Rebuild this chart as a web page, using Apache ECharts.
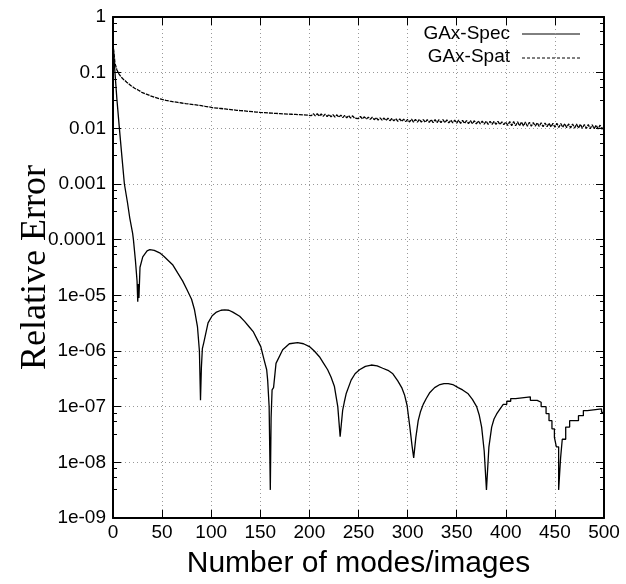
<!DOCTYPE html>
<html><head><meta charset="utf-8">
<script src="https://cdn.jsdelivr.net/npm/echarts/dist/echarts.min.js"></script>
<style>html,body{margin:0;padding:0;background:#fff}#c{width:626px;height:584px}</style>
</head><body><div id="c"></div>
<script>
// ---- data ----
const xTickLabels = ['0','50','100','150','200','250','300','350','400','450','500'];
const yTickLabels = ['1e-09','1e-08','1e-07','1e-06','1e-05','0.0001','0.001','0.01','0.1','1'];
const seriesNames = ['GAx-Spec','GAx-Spat'];

const specX = [0,2,4,6.5,9,11.6,14.7,17,20,20.8,22.8,24.5,25.2,25.8,26.4,27.5,30.3,34.7,37.5,42,47.5,52,57,61,66,71,75,80,83,86,88,89.1,90,91,92.4,96.8,101,105.4,110,113.8,118,122,129,134,138.8,143,147.3,150.5,154,156.5,157.5,159,160.2,161,162,163.5,166,172.8,179.6,188,194,200,205,210.2,214.5,218.6,222,225.5,228.9,231.3,233.9,235.5,237.4,242.5,246.5,251,257,263,269,274.7,280,285,290,294,297,299.5,302.3,304.5,306.2,308.4,310.8,313,315.9,319,322.7,327.5,332.9,337,341.4,346,351.5,356,361.7,366,370.3,373,375.4,378,380.3,382.8,385.6,388,390.7,394,397.4,401,401,405,405,410,410,425,425,432,432,436,436,441,441,444,444,447,447,449.5,449.5,451.5,451.5,453.8,453.8,455.8,455.8,457.5,457.5,461,461,465,465,474,474,479,479,483,483,497.5,497.5,500];
const specValues = [0.33,0.1,0.033,0.01,0.0032,0.001,4.7e-4,2.5e-4,1.3e-4,1e-4,4.3e-5,1.8e-5,7.7e-6,1.6e-5,9e-6,3.2e-5,4.9e-5,6.3e-5,6.6e-5,6.4e-5,5.8e-5,5e-5,4.1e-5,3.5e-5,2.5e-5,1.8e-5,1.3e-5,8.5e-6,5.5e-6,2.75e-6,1e-6,1.3e-7,5e-7,1.1e-6,1.4e-6,3.2e-6,4.3e-6,5e-6,5.4e-6,5.5e-6,5.4e-6,5e-6,4.2e-6,3.4e-6,2.7e-6,2.2e-6,1.55e-6,1.2e-6,6.8e-7,4.6e-7,3e-7,1e-7,3.2e-9,6.3e-8,2e-7,2.2e-7,6e-7,1.05e-6,1.35e-6,1.42e-6,1.35e-6,1.2e-6,1e-6,7.9e-7,6e-7,4.6e-7,3.4e-7,2.3e-7,1e-7,2.9e-8,8.7e-8,1.2e-7,1.7e-7,3e-7,3.9e-7,4.6e-7,5.3e-7,5.6e-7,5.4e-7,4.9e-7,4.5e-7,3.9e-7,2.9e-7,2.2e-7,1.6e-7,1.05e-7,4.3e-8,2e-8,1.2e-8,2.8e-8,5.6e-8,8e-8,1.1e-7,1.4e-7,1.8e-7,2.2e-7,2.5e-7,2.6e-7,2.6e-7,2.5e-7,2.2e-7,2e-7,1.7e-7,1.35e-7,1e-7,7e-8,4.3e-8,1.6e-8,3.2e-9,1.9e-8,4.3e-8,6e-8,7.4e-8,9e-8,1.1e-7,1.1e-7,1.25e-7,1.25e-7,1.4e-7,1.4e-7,1.5e-7,1.5e-7,1.3e-7,1.3e-7,1.2e-7,1.2e-7,1e-7,1e-7,7.5e-8,7.5e-8,5.6e-8,5.6e-8,4e-8,4e-8,2.8e-8,2.8e-8,1.9e-8,1.9e-8,3.2e-9,3.2e-9,1.2e-8,1.2e-8,2.6e-8,2.6e-8,4.3e-8,4.3e-8,5.6e-8,5.6e-8,6.9e-8,6.9e-8,8.5e-8,8.5e-8,9.1e-8,9.1e-8,7.9e-8,7.9e-8];

// GAx-Spat sampled every 2 modes (0,2,4,...,500)
const spatStep = 2;
const spatValues = [0.331,0.148,0.112,0.0955,0.0851,0.0776,0.0724,0.0676,0.0631,0.0590,0.0550,0.0525,0.0501,0.0483,0.0465,
0.0437,0.0444,0.0410,0.0416,0.0384,0.0389,0.0363,0.0372,0.0347,0.0355,0.0331,0.0341,0.0319,0.0328,0.0308,0.0316,
0.0299,0.0309,0.0292,0.0302,0.0285,0.0296,0.0278,0.0288,0.0273,0.0282,0.0267,0.0276,0.0261,0.0270,0.0255,0.0263,0.0248,0.0257,0.0242,0.0251,
0.0234,0.0249,0.0231,0.0245,0.0227,0.0241,0.0223,0.0237,0.0219,0.0233,0.0215,0.0229,0.0211,0.0225,0.0208,0.0221,0.0206,0.0218,0.0202,0.0215,0.0199,0.0212,0.0196,0.0209,0.0193,
0.0206,0.0191,0.0204,0.0189,0.0202,0.0187,0.0200,0.0185,0.0199,0.0184,0.0197,0.0182,0.0195,0.0180,0.0193,0.0179,0.0190,0.0178,0.0189,0.0176,0.0187,0.0174,0.0186,0.0173,0.0184,
0.0169,0.0184,0.0167,0.0183,0.0166,0.0181,0.0164,0.0180,0.0163,0.0178,0.0161,0.0176,0.0160,0.0175,0.0158,0.0173,0.0156,0.0171,0.0154,0.0170,0.0153,0.0168,0.0152,0.0165,0.0150,0.0163,0.0148,0.0161,0.0146,0.0159,0.0145,0.0158,0.0143,0.0156,0.0141,
0.0154,0.0140,0.0153,0.0138,0.0152,0.0137,0.0150,0.0136,0.0149,0.0134,0.0148,0.0133,0.0146,0.0132,0.0144,
0.0130,0.0146,0.0129,0.0145,0.0129,0.0145,0.0129,0.0144,0.0128,0.0144,0.0128,0.0144,0.0127,0.0143,0.0127,0.0143,0.0127,
0.0143,0.0126,0.0142,0.0125,0.0141,0.0125,0.0140,0.0124,0.0140,0.0123,0.0139,0.0123,0.0138,0.0122,0.0138,0.0121,0.0137,0.0120,0.0136,0.0120,0.0135,0.0119,0.0135,0.0118,0.0134,
0.0118,0.0133,0.0118,0.0133,0.0117,0.0131,0.0117,0.0130,
0.0113,0.0132,0.0112,0.0132,0.0111,0.0131,0.0111,0.0130,0.0110,0.0130,0.0109,0.0129,0.0109,0.0127,0.0109,0.0126,0.0108,
0.0126,0.0107,0.0125,0.0107,0.0124,0.0106,0.0123,0.0105,0.0123,0.0104,0.0122,0.0104,0.0121,0.0103,0.0120,0.0102,0.0120,0.0101,0.0119,0.0101,0.0118,0.0100,0.0117,0.00994,0.0117,0.00984,0.0116,0.00984,0.0114,0.00975,0.0114,0.00966,0.0113];

const specData = specX.map((x, i) => [x, specValues[i]]);
const spatData = spatValues.map((v, i) => [i * spatStep, v]);

const chart = echarts.init(document.getElementById('c'), null, {renderer: 'canvas'});
const sans = '"Liberation Sans", Arial, sans-serif';
const serif = '"Liberation Serif", "Times New Roman", serif';

function yLabel(v) {
  const e = Math.round(Math.log10(v));
  return yTickLabels[e + 9] !== undefined ? yTickLabels[e + 9] : '';
}
function xLabel(v) {
  const i = Math.round(v / 50);
  return xTickLabels[i] !== undefined ? xTickLabels[i] : '';
}
const frame = {show: true, onZero: false, lineStyle: {color: '#000', width: 2}};

chart.setOption({
  animation: false,
  backgroundColor: '#fff',
  grid: {left: 113, right: 22, top: 17, bottom: 66, containLabel: false, outerBoundsMode: 'none'},
  xAxis: [{
    type: 'value', min: 0, max: 500, interval: 50, position: 'bottom',
    axisLine: frame,
    axisTick: {show: true, inside: true, length: 8, lineStyle: {color: '#000', width: 1}},
    axisLabel: {color: '#000', fontFamily: sans, fontSize: 19, margin: 5, formatter: xLabel},
    splitLine: {show: true, lineStyle: {color: '#999', width: 1, type: [1, 3]}},
    name: 'Number of modes/images', nameLocation: 'middle', nameGap: 31, nameMoveOverlap: false,
    nameTextStyle: {color: '#000', fontFamily: sans, fontSize: 30}
  }, {
    type: 'value', min: 0, max: 500, interval: 50, position: 'top',
    axisLine: frame,
    axisTick: {show: true, inside: true, length: 8, lineStyle: {color: '#000', width: 1}},
    axisLabel: {show: false}, splitLine: {show: false}
  }],
  yAxis: [{
    type: 'log', logBase: 10, min: 1e-9, max: 1, splitNumber: 9, position: 'left',
    axisLine: frame,
    axisTick: {show: true, inside: true, length: 8, lineStyle: {color: '#000', width: 1}},
    minorTick: {show: true, splitNumber: 4, length: 4, lineStyle: {color: '#000', width: 1}},
    axisLabel: {color: '#000', fontFamily: sans, fontSize: 19, margin: 7, formatter: yLabel},
    splitLine: {show: true, lineStyle: {color: '#999', width: 1, type: [1, 3]}},
    name: 'Relative Error', nameLocation: 'middle', nameGap: 59, nameRotate: 90, nameMoveOverlap: false,
    nameTextStyle: {color: '#000', fontFamily: serif, fontSize: 36}
  }, {
    type: 'log', logBase: 10, min: 1e-9, max: 1, splitNumber: 9, position: 'right',
    axisLine: frame,
    axisTick: {show: true, inside: true, length: 8, lineStyle: {color: '#000', width: 1}},
    minorTick: {show: true, splitNumber: 4, length: 4, lineStyle: {color: '#000', width: 1}},
    axisLabel: {show: false}, splitLine: {show: false}
  }],
  series: [{
    name: seriesNames[0], type: 'line', data: specData, showSymbol: false, symbol: 'none',
    lineStyle: {color: '#000', width: 1.3}, z: 3
  }, {
    name: seriesNames[1], type: 'line', data: spatData, showSymbol: false, symbol: 'none',
    lineStyle: {color: '#000', width: 1.3, type: [4, 1]}, z: 2
  }],
  graphic: [
    {type: 'text', right: 116, top: 24, style: {text: seriesNames[0], font: '19px ' + sans, fill: '#000', textAlign: 'right'}},
    {type: 'line', shape: {x1: 522, y1: 34, x2: 580, y2: 34}, style: {stroke: '#000', lineWidth: 1}},
    {type: 'text', right: 116, top: 47, style: {text: seriesNames[1], font: '19px ' + sans, fill: '#000', textAlign: 'right'}},
    {type: 'line', shape: {x1: 522, y1: 58, x2: 580, y2: 58}, style: {stroke: '#000', lineWidth: 1, lineDash: [3, 2]}}
  ]
});
</script></body></html>
